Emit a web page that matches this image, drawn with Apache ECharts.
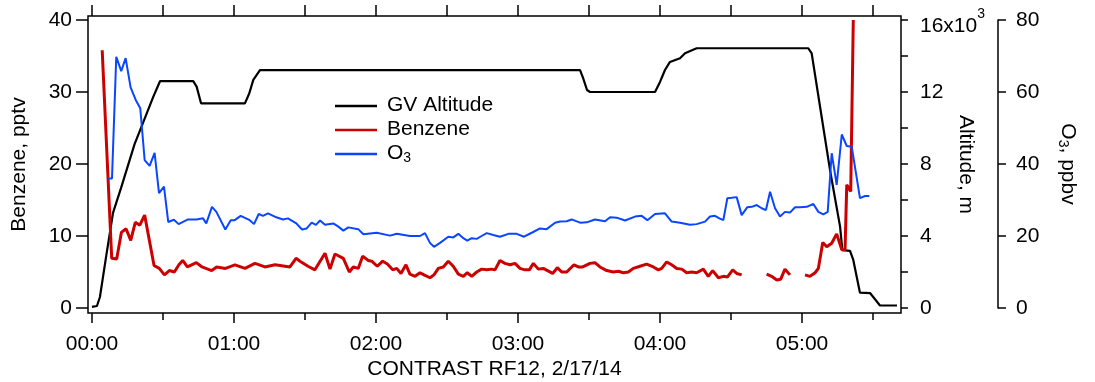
<!DOCTYPE html>
<html>
<head>
<meta charset="utf-8">
<script src="https://cdn.jsdelivr.net/npm/echarts@6/dist/echarts.min.js"></script>
<style>
html,body{margin:0;padding:0;background:#fff;}
#chart{width:1095px;height:382px;}
</style>
</head>
<body>
<div id="chart"></div>
<script>
// ---------- Tick values ----------
const hourTicks = [0, 1, 2, 3, 4, 5];
const halfHourTicks = [0.5, 1.5, 2.5, 3.5, 4.5, 5.5];
const topTicks = [0, 0.5, 1, 1.5, 2, 2.5, 3, 3.5, 4, 4.5, 5, 5.5];
const benzeneTicks = [0, 10, 20, 30, 40];
const altitudeTicks = [0, 2000, 4000, 6000, 8000, 10000, 12000, 14000, 16000];
const altitudeLabels = [0, 4000, 8000, 12000, 16000];
const o3Ticks = [0, 20, 40, 60, 80];

// ---------- GV Altitude (m) vs time (hours after 00:00 UTC) ----------
const altitudeHours = [0.000, 0.035, 0.056, 0.099, 0.148, 0.206, 0.300, 0.360, 0.430, 0.479,
  0.713, 0.737, 0.768, 1.077, 1.108, 1.136, 1.183, 3.437, 3.458, 3.486,
  3.507, 3.965, 4.000, 4.035, 4.070, 4.141, 4.176, 4.258, 5.044, 5.068,
  5.127, 5.197, 5.268, 5.284, 5.338, 5.361, 5.408, 5.479, 5.549, 5.669];
const altitudeMeters = [60, 110, 610, 2830, 5280, 6700, 9100, 10300, 11700, 12600,
  12600, 12300, 11370, 11370, 11930, 12670, 13220, 13220, 12780, 12110,
  12000, 12000, 12560, 13220, 13670, 13870, 14150, 14430, 14430, 14150,
  11180, 7670, 4520, 3220, 3170, 2670, 850, 830, 140, 140];

// ---------- Benzene (pptv) ----------
const benzeneHours = [0.072, 0.139, 0.174, 0.207, 0.240, 0.273, 0.305, 0.337, 0.371, 0.437,
  0.474, 0.510, 0.545, 0.580, 0.612, 0.639, 0.672, 0.735, 0.775, 0.843,
  0.878, 0.940, 1.007, 1.077, 1.148, 1.218, 1.289, 1.359, 1.394, 1.437,
  1.465, 1.521, 1.570, 1.641, 1.676, 1.711, 1.770, 1.812, 1.840, 1.875,
  1.906, 1.946, 1.970, 2.009, 2.047, 2.080, 2.118, 2.146, 2.176, 2.211,
  2.239, 2.275, 2.310, 2.338, 2.380, 2.408, 2.439, 2.474, 2.509, 2.544,
  2.580, 2.615, 2.643, 2.674, 2.709, 2.744, 2.780, 2.815, 2.838, 2.873,
  2.908, 2.944, 2.979, 3.014, 3.049, 3.080, 3.108, 3.143, 3.178, 3.244,
  3.277, 3.308, 3.343, 3.394, 3.425, 3.456, 3.507, 3.542, 3.577, 3.625,
  3.671, 3.706, 3.742, 3.777, 3.812, 3.859, 3.906, 3.953, 3.988, 4.012,
  4.047, 4.082, 4.118, 4.153, 4.188, 4.223, 4.258, 4.305, 4.340, 4.371,
  4.411, 4.446, 4.474, 4.512, 4.540, 4.575, 4.660, 4.751, 4.786, 4.822,
  4.850, 4.880, 4.915, 4.970, 5.021, 5.056, 5.092, 5.115, 5.146, 5.174,
  5.209, 5.244, 5.280, 5.303, 5.315, 5.343, 5.361];
const benzenePptv = [35.8, 6.9, 6.8, 10.5, 11.0, 9.4, 11.9, 11.5, 12.9, 5.9,
  5.5, 4.6, 5.2, 5.0, 6.0, 6.6, 5.7, 6.3, 5.7, 5.2,
  5.7, 5.5, 6.0, 5.5, 6.2, 5.7, 6.0, 5.8, 5.7, 6.9,
  6.5, 5.8, 5.3, 7.6, 5.4, 7.5, 6.9, 5.0, 5.7, 5.5,
  7.2, 6.6, 6.5, 5.8, 6.5, 6.1, 5.3, 5.5, 4.8, 6.0,
  4.7, 4.4, 4.9, 4.6, 4.2, 4.6, 5.5, 5.7, 6.5, 5.8,
  4.7, 4.4, 4.9, 4.4, 5.0, 5.4, 5.3, 5.4, 5.3, 6.6,
  6.2, 6.0, 6.2, 5.5, 5.3, 5.3, 6.2, 5.4, 5.5, 4.8,
  5.6, 5.0, 5.0, 6.0, 5.7, 5.7, 6.2, 6.3, 5.7, 5.2,
  5.0, 5.1, 4.9, 5.0, 5.5, 5.8, 6.1, 5.7, 5.3, 5.5,
  6.4, 6.0, 5.5, 5.4, 4.9, 5.0, 4.9, 5.4, 4.4, 5.2,
  4.2, 4.4, 4.3, 5.3, 4.8, 4.6, null, 4.7, 4.4, 3.9,
  4.0, 5.4, 4.6, null, 4.6, 4.4, 4.9, 5.5, 9.1, 8.5,
  9.0, 10.3, 8.1, 8.1, 17.1, 16.2, 40.0];

// ---------- O3 (ppbv) ----------
const o3Hours = [0.113, 0.141, 0.171, 0.206, 0.237, 0.272, 0.308, 0.340, 0.371, 0.406,
  0.441, 0.472, 0.507, 0.537, 0.577, 0.610, 0.676, 0.735, 0.782, 0.805,
  0.845, 0.876, 0.939, 0.977, 1.005, 1.047, 1.111, 1.141, 1.174, 1.204,
  1.239, 1.298, 1.345, 1.380, 1.439, 1.479, 1.512, 1.547, 1.577, 1.606,
  1.641, 1.699, 1.735, 1.770, 1.805, 1.875, 1.911, 2.005, 2.099, 2.146,
  2.239, 2.310, 2.345, 2.380, 2.408, 2.451, 2.509, 2.544, 2.580, 2.615,
  2.643, 2.674, 2.709, 2.744, 2.780, 2.826, 2.873, 2.932, 2.991, 3.042,
  3.097, 3.155, 3.202, 3.261, 3.296, 3.343, 3.378, 3.437, 3.484, 3.542,
  3.613, 3.648, 3.695, 3.754, 3.824, 3.871, 3.911, 3.965, 4.035, 4.082,
  4.141, 4.211, 4.258, 4.317, 4.352, 4.387, 4.418, 4.446, 4.474, 4.505,
  4.540, 4.575, 4.615, 4.646, 4.681, 4.716, 4.746, 4.775, 4.810, 4.845,
  4.880, 4.915, 4.951, 4.986, 5.033, 5.080, 5.115, 5.150, 5.181, 5.209,
  5.244, 5.280, 5.315, 5.350, 5.408, 5.444, 5.474];
const o3Ppbv = [36.0, 36.0, 69.8, 65.8, 69.4, 61.3, 57.8, 55.5, 41.1, 39.5,
  43.1, 31.9, 33.7, 23.9, 24.5, 23.3, 24.6, 24.6, 24.9, 23.5,
  28.1, 26.7, 21.8, 24.4, 24.4, 25.6, 24.4, 23.3, 26.1, 25.6,
  26.3, 25.2, 24.6, 24.9, 23.5, 21.8, 22.1, 23.7, 23.1, 24.3,
  23.1, 23.5, 22.6, 21.5, 22.4, 21.9, 20.5, 20.9, 20.1, 20.6,
  20.0, 20.0, 20.8, 18.1, 17.0, 18.1, 19.8, 19.6, 20.6, 19.4,
  18.7, 19.4, 19.2, 20.0, 20.8, 20.3, 19.8, 20.6, 20.6, 19.8,
  20.9, 22.1, 21.9, 23.7, 24.0, 24.1, 24.6, 23.7, 23.8, 24.6,
  24.1, 25.2, 25.1, 24.3, 25.4, 25.6, 24.4, 26.1, 26.3, 24.0,
  23.7, 23.1, 23.3, 24.0, 25.4, 25.6, 24.9, 24.4, 30.5, 30.6,
  30.8, 25.8, 28.0, 28.1, 28.6, 27.7, 27.2, 32.3, 27.7, 25.4,
  26.7, 26.5, 28.0, 28.0, 28.1, 28.9, 26.7, 26.0, 26.7, 43.0,
  34.2, 48.2, 45.0, 44.8, 30.5, 31.1, 31.1];

// ---------- Build chart ----------
const FONT = "'Liberation Sans', Arial, Helvetica, sans-serif";
const pair = (xs, ys) => xs.map((x, i) => [x, ys[i]]);
const X_MIN = -0.028, X_MAX = 5.697;
const hhmm = v => String(Math.round(v)).padStart(2, '0') + ':00';
const blackLine = { color: '#000', width: 1.5 };
const baseText = { fontFamily: FONT, color: '#000', fontSize: 21 };
const noLine = { show: false, onZero: false };

const chart = echarts.init(document.getElementById('chart'), null, { renderer: 'canvas' });
const option = {
  animation: false,
  backgroundColor: '#fff',
  textStyle: { fontFamily: FONT, color: '#000' },
  grid: [
    { left: 88, top: 16, width: 813, height: 297, show: true, borderColor: '#000', borderWidth: 1.5,
      backgroundColor: 'transparent', containLabel: false, outerBoundsMode: 'none' },
    { left: 88, top: 20, width: 813, height: 288, show: false, containLabel: false, outerBoundsMode: 'none' }
  ],
  xAxis: [
    {
      type: 'value', gridIndex: 0, position: 'bottom', min: X_MIN, max: X_MAX,
      splitLine: { show: false }, axisLine: noLine,
      axisTick: { show: true, customValues: hourTicks, length: 10, lineStyle: blackLine },
      axisLabel: Object.assign({ show: true, customValues: hourTicks, formatter: hhmm, margin: 21 }, baseText),
      name: 'CONTRAST RF12, 2/17/14', nameLocation: 'middle', nameGap: 46, nameMoveOverlap: false,
      nameTextStyle: Object.assign({}, baseText)
    },
    {
      type: 'value', gridIndex: 0, position: 'bottom', min: X_MIN, max: X_MAX,
      splitLine: { show: false }, axisLine: noLine,
      axisTick: { show: true, customValues: halfHourTicks, length: 7, lineStyle: blackLine },
      axisLabel: { show: false }
    },
    {
      type: 'value', gridIndex: 0, position: 'top', min: X_MIN, max: X_MAX,
      splitLine: { show: false }, axisLine: noLine,
      axisTick: { show: true, customValues: topTicks, length: 11, lineStyle: blackLine },
      axisLabel: { show: false }
    },
    { type: 'value', gridIndex: 1, show: false, min: X_MIN, max: X_MAX, splitLine: { show: false }, axisLine: noLine }
  ],
  yAxis: [
    {
      type: 'value', gridIndex: 0, position: 'left', min: -0.694, max: 40.556,
      splitLine: { show: false }, axisLine: noLine,
      axisTick: { show: true, customValues: benzeneTicks, length: 12, lineStyle: blackLine },
      axisLabel: Object.assign({ show: true, customValues: benzeneTicks, margin: 16 }, baseText),
      name: 'Benzene, pptv', nameLocation: 'middle', nameRotate: 90, nameGap: 58, nameMoveOverlap: false,
      nameTextStyle: Object.assign({}, baseText)
    },
    {
      type: 'value', gridIndex: 0, position: 'right', min: -278, max: 16222,
      splitLine: { show: false }, axisLine: noLine,
      axisTick: { show: true, customValues: altitudeTicks, length: 7, lineStyle: blackLine },
      axisLabel: Object.assign({
        show: true, customValues: altitudeLabels, margin: 19,
        formatter: v => v === 16000 ? '{a|16x10}{sup|3}{sp| }' : String(v / 1000),
        rich: {
          a: { fontFamily: FONT, fontSize: 21, color: '#000', lineHeight: 22, verticalAlign: 'bottom' },
          sup: { fontFamily: FONT, fontSize: 14, color: '#000', verticalAlign: 'top', padding: [4, 0, 0, 0] },
          sp: { fontFamily: FONT, fontSize: 1, lineHeight: 34 }
        }
      }, baseText),
      name: 'Altitude, m', nameLocation: 'middle', nameRotate: -90, nameGap: 54, nameMoveOverlap: false,
      nameTextStyle: Object.assign({}, baseText)
    },
    {
      type: 'value', gridIndex: 1, position: 'right', offset: 97, min: 0, max: 80,
      splitLine: { show: false },
      axisLine: { show: true, onZero: false, lineStyle: blackLine },
      axisTick: { show: true, customValues: o3Ticks, length: 8, lineStyle: blackLine },
      axisLabel: Object.assign({ show: true, customValues: o3Ticks, margin: 18 }, baseText),
      name: '{a|O}{s|3}{a|, ppbv}', nameLocation: 'middle', nameRotate: -90, nameGap: 58, nameMoveOverlap: false,
      nameTextStyle: Object.assign({
        rich: {
          a: { fontFamily: FONT, fontSize: 21, color: '#000', lineHeight: 22, verticalAlign: 'top' },
          s: { fontFamily: FONT, fontSize: 14, color: '#000', lineHeight: 10, verticalAlign: 'bottom' }
        }
      }, baseText)
    }
  ],
  legend: {
    show: true, orient: 'vertical', left: 335, top: 95, padding: 0, itemGap: 3,
    itemWidth: 42, itemHeight: 2.5, icon: 'rect',
    data: ['GV Altitude', 'Benzene', 'O3'],
    formatter: n => n === 'O3' ? '{a|O}{s|3}' : '{a|' + n + '}',
    textStyle: {
      fontFamily: FONT, fontSize: 21, color: '#000', padding: [0, 0, 0, 5],
      rich: {
        a: { fontFamily: FONT, fontSize: 21, color: '#000', lineHeight: 22, verticalAlign: 'top' },
        s: { fontFamily: FONT, fontSize: 14, color: '#000', lineHeight: 10, verticalAlign: 'bottom' }
      }
    }
  },
  series: [
    {
      name: 'GV Altitude', type: 'line', xAxisIndex: 0, yAxisIndex: 1,
      data: pair(altitudeHours, altitudeMeters), symbol: 'none', showSymbol: false,
      color: '#000', lineStyle: { color: '#000', width: 2.2 }, z: 3
    },
    {
      name: 'Benzene', type: 'line', xAxisIndex: 0, yAxisIndex: 0,
      data: pair(benzeneHours, benzenePptv), symbol: 'none', showSymbol: false, connectNulls: false,
      color: '#cc0000', lineStyle: { color: '#cc0000', width: 3 }, z: 4
    },
    {
      name: 'O3', type: 'line', xAxisIndex: 3, yAxisIndex: 2,
      data: pair(o3Hours, o3Ppbv), symbol: 'none', showSymbol: false,
      color: '#0a46ff', lineStyle: { color: '#0a46ff', width: 2 }, z: 5
    }
  ]
};
chart.setOption(option);
</script>
</body>
</html>
